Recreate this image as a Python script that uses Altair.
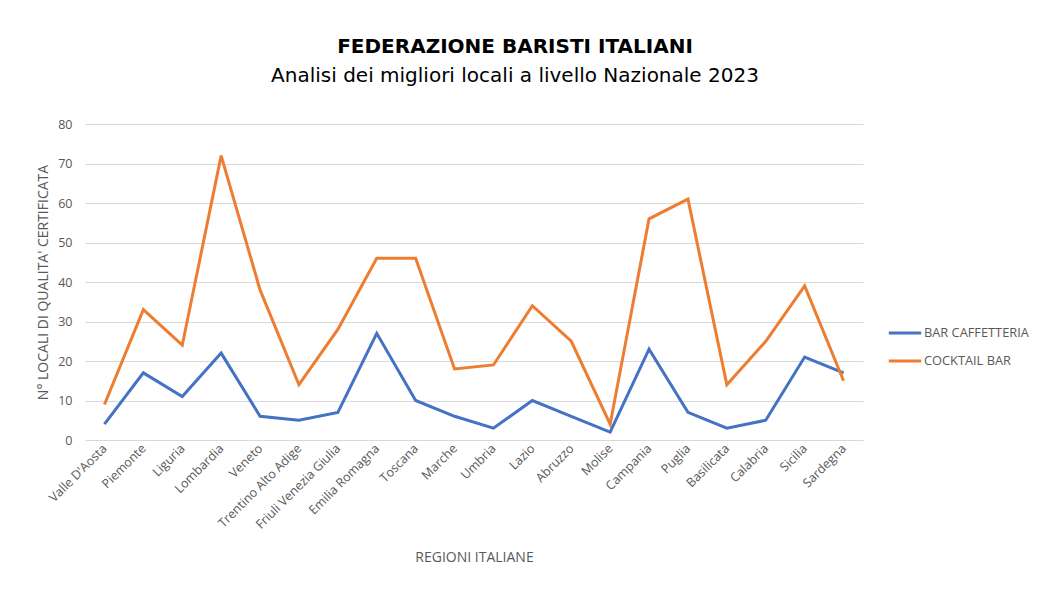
import altair as alt
import pandas as pd

regions = ["Valle D'Aosta", "Piemonte", "Liguria", "Lombardia", "Veneto",
           "Trentino Alto Adige", "Friuli Venezia Giulia", "Emilia Romagna",
           "Toscana", "Marche", "Umbria", "Lazio", "Abruzzo", "Molise",
           "Campania", "Puglia", "Basilicata", "Calabria", "Sicilia", "Sardegna"]
bar_caffetteria = [4, 17, 11, 22, 6, 5, 7, 27, 10, 6, 3, 10, 6, 2, 23, 7, 3, 5, 21, 17]
cocktail_bar = [9, 33, 24, 72, 38, 14, 28, 46, 46, 18, 19, 34, 25, 4, 56, 61, 14, 25, 39, 15]
series_names = ["BAR CAFFETTERIA", "COCKTAIL BAR"]
series_colors = ["#4472C4", "#ED7D31"]

rows = []
for name, vals in zip(series_names, [bar_caffetteria, cocktail_bar]):
    for r, v in zip(regions, vals):
        rows.append({"Regione": r, "Valore": v, "Serie": name})
df = pd.DataFrame(rows)

gray = "#595959"
font = "Open Sans"

chart = alt.Chart(df).mark_line(strokeWidth=3).encode(
    x=alt.X("Regione:N", sort=regions,
            scale=alt.Scale(paddingInner=1, paddingOuter=0.5),
            axis=alt.Axis(title="REGIONI ITALIANE", labelAngle=-45, labelAlign="right",
                          labelBaseline="middle", labelPadding=6, ticks=False, domain=False,
                          grid=False,
                          labelColor=gray, labelFont=font, labelFontSize=12.5,
                          titleColor=gray, titleFont=font, titleFontSize=14,
                          titleFontWeight="normal", titleY=117, titleBaseline="middle")),
    y=alt.Y("Valore:Q", scale=alt.Scale(domain=[0, 80]),
            axis=alt.Axis(title="N° LOCALI DI QUALITA' CERTIFICATA", values=[0, 10, 20, 30, 40, 50, 60, 70, 80],
                          ticks=False, domain=False, gridColor="#d9d9d9", gridWidth=1,
                          labelPadding=13, labelColor=gray, labelFont=font, labelFontSize=12.5,
                          titleColor=gray, titleFont=font, titleFontSize=14,
                          titleFontWeight="normal", titleX=-42, titleY=158, titleAngle=270,
                          titleAlign="center", titleBaseline="middle")),
    color=alt.Color("Serie:N", scale=alt.Scale(domain=series_names, range=series_colors),
                    legend=alt.Legend(title=None, orient="none", legendX=802, legendY=191,
                                      symbolType="stroke", symbolSize=1050, symbolStrokeWidth=3,
                                      rowPadding=3, labelOffset=1, labelColor=gray, labelFont=font,
                                      labelFontSize=12.8)),
).properties(
    width=778,
    height=316,
    title=alt.TitleParams(
        text="FEDERAZIONE BARISTI ITALIANI",
        subtitle="Analisi dei migliori locali a livello Nazionale 2023",
        anchor="middle", dx=41, offset=32,
        font="DejaVu Sans", fontSize=20, fontWeight="bold", color="#000000",
        subtitleFont="DejaVu Sans", subtitleFontSize=20, subtitleColor="#000000",
        subtitlePadding=9,
    ),
    autosize=alt.AutoSizeParams(type="none"),
    padding={"left": 77, "top": 116, "right": 179, "bottom": 142},
).configure(background="white").configure_view(stroke=None)

chart.save("out.html", embed_options={"renderer": "svg", "actions": False})
